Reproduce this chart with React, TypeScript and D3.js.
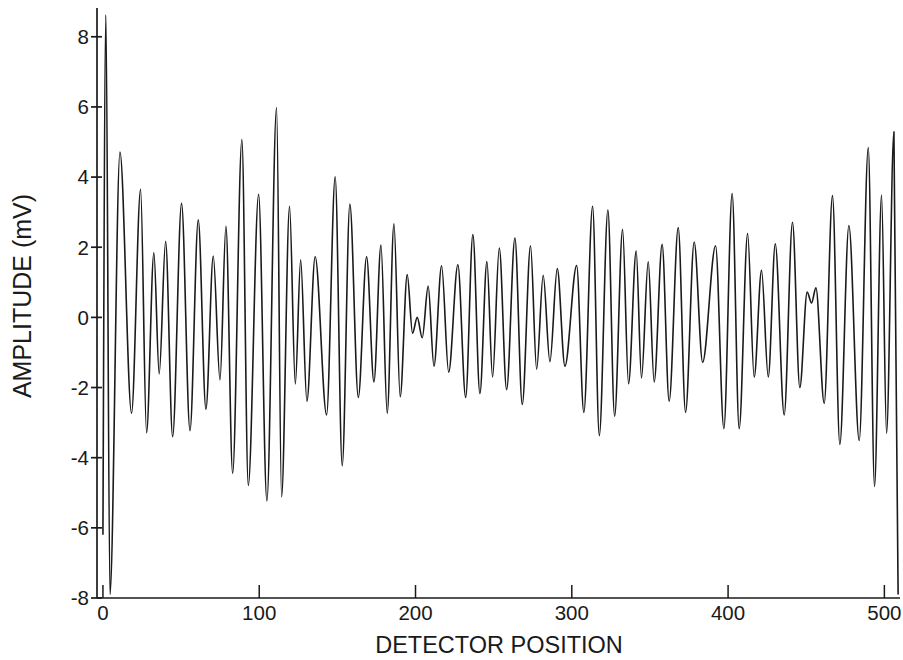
import React from "react";
import * as d3 from "d3";

const positions: number[] = [
  0, 1.9, 4.5, 10.9, 18.3, 24.1, 27.9, 32.6, 36.0, 40.1, 44.6, 50.3, 55.7, 61.0, 65.9, 70.6, 74.9, 78.7,
  83.0, 88.9, 93.0, 99.6, 104.9, 111.1, 114.3, 119.4, 123.1, 126.5, 130.5, 135.8, 143.1, 148.6, 153.1,
  158.0, 163.4, 168.7, 173.4, 177.9, 181.9, 186.2, 190.2, 194.7, 198.1, 201.1, 204.3, 208.1, 211.8,
  216.7, 221.2, 227.1, 232.1, 236.7, 241.2, 245.7, 249.3, 253.6, 258.3, 263.6, 268.3, 273.6, 277.5,
  281.7, 286.0, 290.7, 295.6, 303.1, 307.7, 313.3, 317.6, 323.1, 327.4, 332.5, 336.3, 341.2, 344.6,
  348.9, 352.7, 357.8, 362.3, 368.1, 372.8, 378.3, 383.7, 392.0, 397.3, 402.6, 407.1, 412.5, 416.7,
  421.4, 425.7, 430.2, 435.9, 441.2, 445.9, 450.6, 453.4, 456.2, 461.5, 466.8, 471.5, 477.3, 483.9,
  489.7, 493.7, 498.2, 501.4, 506.1, 508.8,
];

const amplitudes: number[] = [
  -6.2, 8.63, -7.9, 4.71, -2.73, 3.65, -3.29, 1.84, -1.61, 2.17, -3.4, 3.25, -3.23, 2.78, -2.62, 1.75, -1.78, 2.6,
  -4.45, 5.07, -4.79, 3.51, -5.23, 5.98, -5.12, 3.17, -1.9, 1.64, -2.39, 1.73, -2.78, 4.01, -4.23,
  3.23, -2.28, 1.73, -1.84, 2.06, -2.73, 2.67, -2.26, 1.22, -0.45, 0.0, -0.58, 0.89, -1.39,
  1.47, -1.56, 1.5, -2.28, 2.36, -2.17, 1.59, -1.7, 1.98, -2.06, 2.26, -2.48, 2.04, -1.48,
  1.2, -1.26, 1.39, -1.39, 1.48, -2.71, 3.17, -3.37, 3.06, -2.82, 2.51, -1.89, 1.89, -1.73,
  1.59, -1.84, 2.08, -2.39, 2.56, -2.71, 2.15, -1.28, 2.04, -3.17, 3.53, -3.17, 2.39, -1.7,
  1.34, -1.7, 2.1, -2.78, 2.71, -2.0, 0.72, 0.41, 0.84, -2.45, 3.47, -3.62, 2.62, -3.51,
  4.84, -4.82, 3.49, -3.31, 5.29, -7.9,
];

const xTicks: number[] = [0, 100, 200, 300, 400, 500];
const yTicks: number[] = [-8, -6, -4, -2, 0, 2, 4, 6, 8];

const X_TITLE = "DETECTOR POSITION";
const Y_TITLE = "AMPLITUDE (mV)";

export default function App() {
  const W = 903;
  const H = 660;
  const left = 97;
  const right = 900;
  const top = 8;
  const bottom = 598;

  const x = d3.scaleLinear().domain([-3.8, 510]).range([left, right]);
  const y = d3.scaleLinear().domain([-8, 8.82]).range([bottom, top]);

  const data = positions.map((p, i) => [p, amplitudes[i]] as [number, number]);
  const line = d3
    .line<[number, number]>()
    .x((d) => x(d[0]))
    .y((d) => y(d[1]))
    .curve(d3.curveMonotoneX);

  const font = "'Liberation Sans', Arial, Helvetica, sans-serif";
  const ink = "#1a1a1a";

  return (
    <svg
      width={W}
      height={H}
      style={{ position: "absolute", left: 0, top: 0, background: "#fff" }}
    >
      <rect x={0} y={0} width={W} height={H} fill="#fff" />
      {/* axes */}
      <line x1={left} y1={top} x2={left} y2={bottom} stroke={ink} strokeWidth={1.7} />
      <line x1={left} y1={bottom} x2={right} y2={bottom} stroke={ink} strokeWidth={1.7} />
      {yTicks.map((t) => (
        <g key={"y" + t}>
          <line x1={left - 6} x2={left + 5} y1={y(t)} y2={y(t)} stroke={ink} strokeWidth={1.7} />
          <text
            x={left - 8}
            y={y(t)}
            dy="0.36em"
            textAnchor="end"
            fontFamily={font}
            fontSize={20.5}
            fill={ink}
          >
            {t}
          </text>
        </g>
      ))}
      {xTicks.map((t) => (
        <g key={"x" + t}>
          <line x1={x(t)} x2={x(t)} y1={bottom} y2={bottom - 13} stroke={ink} strokeWidth={1.5} />
          <text
            x={x(t)}
            y={620}
            textAnchor="middle"
            fontFamily={font}
            fontSize={20.5}
            fill={ink}
          >
            {t}
          </text>
        </g>
      ))}
      <path d={line(data) || ""} fill="none" stroke={ink} strokeWidth={1.6} strokeLinejoin="round" />
      <text
        x={499}
        y={653}
        textAnchor="middle"
        fontFamily={font}
        fontSize={23.5}
        fill={ink}
      >
        {X_TITLE}
      </text>
      <text
        transform={`translate(31, 296) rotate(-90)`}
        textAnchor="middle"
        fontFamily={font}
        fontSize={25}
        fill={ink}
      >
        {Y_TITLE}
      </text>
    </svg>
  );
}
